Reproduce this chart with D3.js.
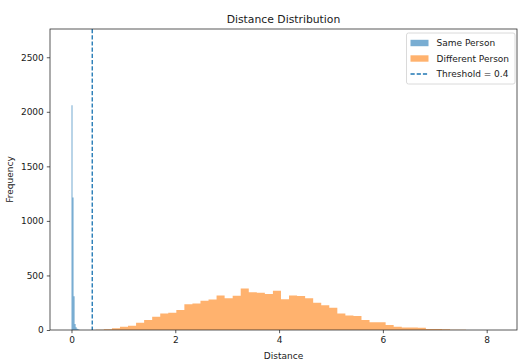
<!DOCTYPE html>
<html>
<head>
<meta charset="utf-8">
<script src="https://cdn.jsdelivr.net/npm/d3@7"></script>
<style>
  html, body { margin: 0; padding: 0; background: #fff; }
  svg { display: block; }
  text { font-family: "DejaVu Sans", sans-serif; fill: #1a1a1a; }
</style>
</head>
<body>
<svg id="chart" width="519" height="360"></svg>
<script>
// ---- data ----
const title = "Distance Distribution";
const xLabel = "Distance";
const yLabel = "Frequency";
const xTicks = [0, 2, 4, 6, 8];
const yTicks = [0, 500, 1000, 1500, 2000, 2500];
const seriesNames = ["Same Person", "Different Person"];
const threshold = 0.4;

// Same Person histogram (very narrow bins near 0)
const sameBinStart = 0.0;
const sameBinWidth = 0.02;
const sameCounts = [2060, 1215, 310, 55, 25, 12, 6, 3, 1];

// Different Person histogram (50 bins)
const diffBinStart = 0.469;
const diffBinWidth = 0.1551;
const diffCounts = [
  3, 8, 15, 30, 38, 67, 91, 122, 152, 158,
  183, 235, 244, 268, 280, 317, 290, 314, 381, 345,
  341, 329, 360, 283, 317, 311, 290, 250, 226, 204,
  152, 134, 128, 91, 70, 70, 46, 30, 24, 22,
  20, 9, 9, 8, 3, 2, 1, 1, 0, 1
];

// ---- layout ----
const svg = d3.select("#chart");
const L = 50, R = 517, T = 29, B = 330;
const x = d3.scaleLinear().domain([-0.414, 8.584]).range([L, R]);
const y = d3.scaleLinear().domain([0, 2759]).range([B, T]);

const blue = "#1f77b4", orange = "#ff7f0e";

const toBins = (start, width, counts) =>
  counts.map((c, i) => ({ x0: start + i * width, x1: start + (i + 1) * width, c }));

const sameBins = toBins(sameBinStart, sameBinWidth, sameCounts);
const diffBins = toBins(diffBinStart, diffBinWidth, diffCounts);

// step-outline path of a histogram (avoids seams between translucent bars)
function histPath(bins) {
  const pts = [[bins[0].x0, 0]];
  bins.forEach(b => { pts.push([b.x0, b.c]); pts.push([b.x1, b.c]); });
  pts.push([bins[bins.length - 1].x1, 0]);
  return d3.line().x(p => x(p[0])).y(p => y(p[1]))(pts) + "Z";
}

svg.append("path").attr("d", histPath(sameBins))
  .attr("fill", blue).attr("fill-opacity", 0.6);
svg.append("path").attr("d", histPath(diffBins))
  .attr("fill", orange).attr("fill-opacity", 0.6);

// threshold line
svg.append("line")
  .attr("x1", x(threshold)).attr("x2", x(threshold))
  .attr("y1", T).attr("y2", B)
  .attr("stroke", blue).attr("stroke-width", 1.35)
  .attr("stroke-dasharray", "4.2,2");

// axes
const xAxis = d3.axisBottom(x).tickValues(xTicks).tickSize(3.2).tickPadding(3).tickFormat(d3.format("d"));
const yAxis = d3.axisLeft(y).tickValues(yTicks).tickSize(3.2).tickPadding(3).tickFormat(d3.format("d"));

const gx = svg.append("g").attr("transform", `translate(0,${B})`).call(xAxis);
const gy = svg.append("g").attr("transform", `translate(${L},0)`).call(yAxis);
[gx, gy].forEach(g => {
  g.select(".domain").remove();
  g.selectAll(".tick line").attr("stroke", "#222").attr("stroke-width", 0.75);
  g.selectAll(".tick text").attr("font-size", 9).attr("font-family", "DejaVu Sans").attr("fill", "#1a1a1a");
});

// spines
svg.append("rect").attr("x", L).attr("y", T).attr("width", R - L).attr("height", B - T)
  .attr("fill", "none").attr("stroke", "#222").attr("stroke-width", 0.75);

// title and labels
svg.append("text").attr("x", (L + R) / 2).attr("y", 23).attr("text-anchor", "middle")
  .attr("font-size", 10.8).text(title);
svg.append("text").attr("x", (L + R) / 2).attr("y", 359).attr("text-anchor", "middle")
  .attr("font-size", 9).text(xLabel);
svg.append("text").attr("transform", `translate(13,${(T + B) / 2}) rotate(-90)`)
  .attr("text-anchor", "middle").attr("font-size", 9).text(yLabel);

// legend
const lg = svg.append("g");
lg.append("rect").attr("x", 406.5).attr("y", 33).attr("width", 108.5).attr("height", 51)
  .attr("rx", 2).attr("fill", "#fff").attr("fill-opacity", 0.8)
  .attr("stroke", "#d0d0d0").attr("stroke-width", 0.8);
const items = [
  { name: seriesNames[0], type: "patch", color: blue },
  { name: seriesNames[1], type: "patch", color: orange },
  { name: `Threshold = ${threshold}`, type: "line", color: blue }
];
items.forEach((it, i) => {
  const cy = 43 + i * 15.5;
  if (it.type === "patch") {
    lg.append("rect").attr("x", 410.5).attr("y", cy - 3.2).attr("width", 18).attr("height", 6.4)
      .attr("fill", it.color).attr("fill-opacity", 0.6);
  } else {
    lg.append("line").attr("x1", 410.5).attr("x2", 428.5).attr("y1", cy).attr("y2", cy)
      .attr("stroke", it.color).attr("stroke-width", 1.35).attr("stroke-dasharray", "4.2,2");
  }
  lg.append("text").attr("x", 436.5).attr("y", cy + 3.3).attr("font-size", 9).text(it.name);
});
</script>
</body>
</html>
